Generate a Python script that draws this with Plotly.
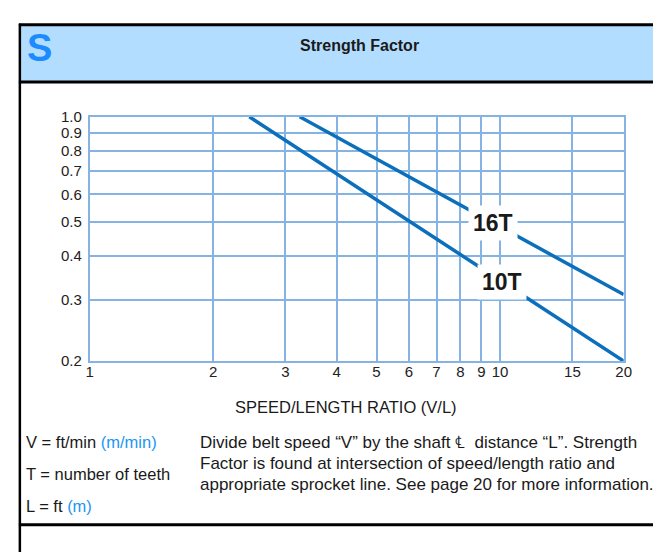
import numpy as np
import plotly.graph_objects as go

# ---- data ----
x_ticks = [1, 2, 3, 4, 5, 6, 7, 8, 9, 10, 15, 20]
y_ticks = [0.2, 0.3, 0.4, 0.5, 0.6, 0.7, 0.8, 0.9, 1.0]
series_names = ["10T", "16T"]
ratio_10T = [2.45, 20]
factor_10T = [1.0, 0.2]
ratio_16T = [3.25, 20]
factor_16T = [1.0, 0.31]
label_ratio = {"16T": 9.6, "10T": 10.1}

W, H = 661, 552
def px(x):
    return x / W
def py(y):
    return 1 - y / H

FONT = "Liberation Sans, Arial, sans-serif"
GRID = "#85b3e3"
LINE = "#0b6fbb"
BLUE_TXT = "#2196f3"

fig = go.Figure()
series = {"10T": (ratio_10T, factor_10T), "16T": (ratio_16T, factor_16T)}
for name in series_names:
    xs, ys = series[name]
    fig.add_trace(go.Scatter(x=xs, y=ys, mode="lines", name=name,
                             line=dict(color=LINE, width=3.5), showlegend=False,
                             hoverinfo="skip"))

def on_line(name, xv):
    xs, ys = series[name]
    lx = np.log10(xs); ly = np.log10(ys)
    return float(10 ** np.interp(np.log10(xv), lx, ly))

annotations = []
for name in series_names:
    xv = label_ratio[name]
    annotations.append(dict(x=np.log10(xv), y=np.log10(on_line(name, xv)), xref="x", yref="y",
                            text="<b>%s</b>" % name, showarrow=False,
                            font=dict(family=FONT, size=23, color="#1a1a1a"),
                            bgcolor="white", borderpad=4))

def txt(x, y, text, size=16.5, anchor="left", bold=False, color="#1a1a1a"):
    annotations.append(dict(x=px(x), y=py(y), xref="paper", yref="paper",
                            text=("<b>%s</b>" % text) if bold else text, showarrow=False,
                            xanchor=anchor, yanchor="middle",
                            font=dict(family=FONT, size=size, color=color)))

txt(28, 32, "S", size=38, anchor="center", bold=True, color="#1a8cff")
txt(354, 29, "Strength Factor", size=16, anchor="center", bold=True)
txt(340, 402, "SPEED/LENGTH RATIO (V/L)", size=16.5, anchor="center")
txt(12, 438, "V = ft/min <span style='color:%s'>(m/min)</span>" % BLUE_TXT)
txt(12, 472, "T = number of teeth")
txt(12, 505, "L = ft <span style='color:%s'>(m)</span>" % BLUE_TXT)
txt(189, 439, "Divide belt speed “V” by the shaft ℄  distance “L”. Strength", size=17)
txt(189, 461, "Factor is found at intersection of speed/length ratio and", size=17)
txt(189, 482, "appropriate sprocket line. See page 20 for more information.", size=17)

shapes = [
    dict(type="rect", xref="paper", yref="paper", x0=px(8), x1=1, y0=py(67), y1=py(8),
         fillcolor="#b3ddff", line=dict(width=0), layer="below"),
    dict(type="line", xref="paper", yref="paper", x0=px(7), x1=1, y0=py(8), y1=py(8),
         line=dict(color="black", width=3)),
    dict(type="line", xref="paper", yref="paper", x0=px(7), x1=1, y0=py(67), y1=py(67),
         line=dict(color="black", width=3)),
    dict(type="line", xref="paper", yref="paper", x0=px(7), x1=1, y0=py(524), y1=py(524),
         line=dict(color="black", width=3)),
    dict(type="line", xref="paper", yref="paper", x0=px(8), x1=px(8), y0=py(7), y1=0,
         line=dict(color="black", width=2.5)),
]

axis_common = dict(showgrid=True, gridcolor=GRID, gridwidth=1.5, showline=True,
                   linecolor=GRID, linewidth=1.5, mirror=True, zeroline=False,
                   ticks="", tickfont=dict(family=FONT, size=15, color="#222"))

fig.update_layout(
    width=W, height=H, margin=dict(l=0, r=0, t=0, b=0, pad=0),
    paper_bgcolor="white", plot_bgcolor="white",
    xaxis=dict(type="log", range=[0, np.log10(20)], domain=[px(79), px(623)],
               tickvals=x_ticks, ticktext=[str(v) for v in x_ticks],
               ticklabelstandoff=-4, **axis_common),
    yaxis=dict(type="log", range=[np.log10(0.2), 0], domain=[py(355), py(103)],
               tickvals=y_ticks, ticktext=["%.1f" % v for v in y_ticks],
               ticklabelstandoff=3, **axis_common),
    annotations=annotations, shapes=shapes,
)

fig.write_html("out.html")
